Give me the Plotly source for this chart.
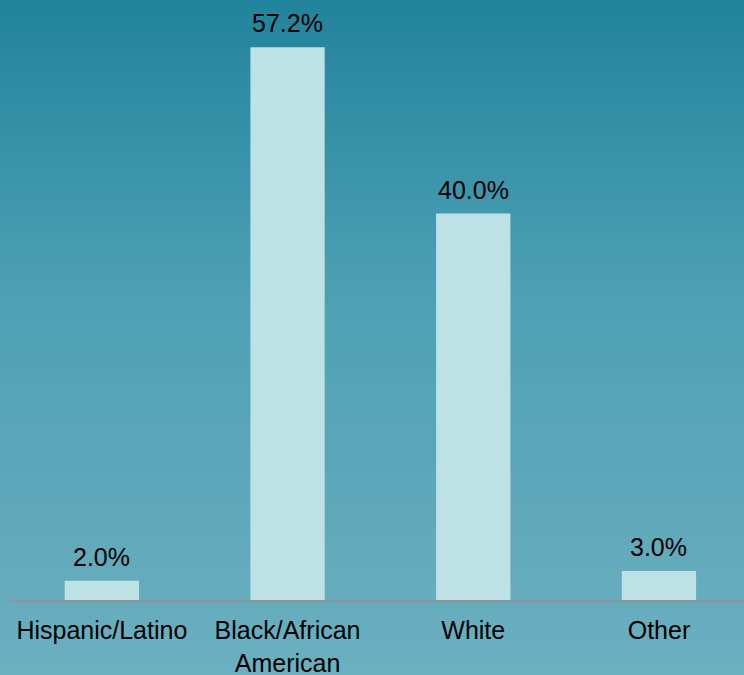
import plotly.graph_objects as go

categories = ["Hispanic/Latino", "Black/African<br>American", "White", "Other"]
values = [2.0, 57.2, 40.0, 3.0]
labels = ["2.0%", "57.2%", "40.0%", "3.0%"]

W, H = 744, 675
ML, MB = 9, 75
PH = H - MB

# background gradient stops (pixel y, rgb)
stops = [(0, (34, 131, 156)), (300, (78, 161, 181)), (600, (102, 172, 189)), (675, (108, 176, 192))]

def color_at(py):
    for (y0, c0), (y1, c1) in zip(stops[:-1], stops[1:]):
        if y0 <= py <= y1:
            t = (py - y0) / (y1 - y0)
            return "rgb(%d,%d,%d)" % tuple(round(a + (b - a) * t) for a, b in zip(c0, c1))
    return "rgb(%d,%d,%d)" % stops[-1][1]

shapes = []
step = 5
for py in range(0, H, step):
    shapes.append(dict(type="rect", xref="paper", yref="paper",
                       x0=-0.05, x1=1.05,
                       y0=(PH - (py + step + 1)) / PH, y1=(PH - py) / PH,
                       fillcolor=color_at(py + step / 2), line=dict(width=0), layer="below"))

fig = go.Figure()
fig.add_trace(go.Bar(x=categories, y=values, marker=dict(color="#bde1e5", line=dict(width=0)),
                     width=0.4, hoverinfo="skip"))

annotations = []
for c, v, l in zip(categories, values, labels):
    annotations.append(dict(x=c, y=v, text=l, showarrow=False, yanchor="bottom", yshift=8,
                            font=dict(family="Liberation Sans, Arial", size=25, color="#000000")))

fig.update_layout(
    width=W, height=H,
    margin=dict(l=ML, r=0, t=0, b=MB, pad=0, autoexpand=False),
    paper_bgcolor="#6aafbf",
    plot_bgcolor="rgba(0,0,0,0)",
    shapes=shapes,
    annotations=annotations,
    showlegend=False,
    bargap=0.6,
    xaxis=dict(range=[-0.5, 3.458], showline=True, linecolor="#8a9799", linewidth=2,
               showgrid=False, zeroline=False, ticks="outside", ticklen=7, tickcolor="rgba(0,0,0,0)",
               automargin=False,
               tickfont=dict(family="Liberation Sans, Arial", size=25, color="#000000"), fixedrange=True),
    yaxis=dict(range=[0, 62.1], visible=False, showgrid=False, zeroline=False, fixedrange=True,
               automargin=False),
)

fig.write_html("out.html", config={"displayModeBar": False},
               post_script="document.body.style.margin='0';document.body.style.overflow='hidden';")
